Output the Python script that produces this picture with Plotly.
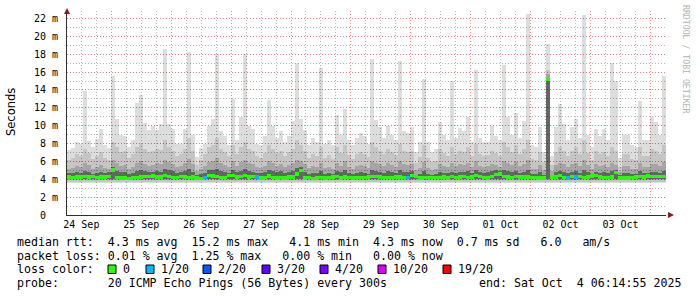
import plotly.graph_objects as go
import pandas as pd

# ---------------- data (96-minute bins) ----------------
rtt_max = [
    7.3, 7.5, 8.2, 8.0, 13.9, 8.3, 7.6, 8.5, 9.6, 7.8, 7.5, 15.6, 10.8, 9.0, 8.8, 7.6, 8.4, 12.5, 13.4, 10.3, 9.5, 10.0, 9.5, 10.2, 18.6,
    10.2, 9.6, 8.0, 8.0, 9.6, 18.3, 9.0, 6.5, 7.5, 8.0, 10.0, 10.7, 18.0, 9.4, 8.8, 7.8, 13.0, 8.4, 11.0, 18.0, 10.0, 9.6, 8.0, 7.8, 8.8,
    12.9, 10.0, 8.6, 9.4, 8.2, 8.8, 10.5, 17.0, 10.8, 9.5, 7.8, 8.6, 8.2, 16.5, 8.0, 8.4, 7.8, 11.2, 9.0, 11.9, 8.4, 7.8, 8.6, 9.2, 8.8,
    8.0, 17.5, 10.6, 9.8, 8.6, 10.0, 9.0, 8.4, 17.2, 9.4, 9.2, 9.8, 7.0, 8.2, 15.2, 8.2, 7.0, 7.4, 10.4, 9.0, 8.4, 15.0, 8.6, 9.7, 9.4,
    11.0, 8.2, 16.2, 8.6, 8.2, 8.2, 10.0, 8.8, 8.4, 16.8, 11.0, 9.0, 11.4, 8.6, 10.5, 22.5, 7.8, 7.6, 9.8, 7.0, 19.2, 6.6, 9.8, 12.4, 10.2,
    8.4, 9.8, 10.8, 8.6, 22.4, 9.0, 7.6, 9.6, 8.8, 9.6, 8.4, 17.0, 15.0, 6.4, 9.0, 9.0, 7.8, 7.6, 12.8, 8.4, 8.4, 11.0, 10.4, 9.0, 15.6,
]
rtt_p90 = [
    6.2, 6.4, 6.8, 6.6, 7.4, 6.9, 6.3, 6.6, 7.0, 6.4, 6.2, 8.2, 7.6, 7.0, 7.2, 6.4, 6.8, 7.6, 8.0, 7.4, 7.0, 7.2, 7.4, 7.3, 8.4,
    7.6, 7.2, 6.6, 6.8, 7.4, 8.6, 7.2, 5.6, 6.2, 6.8, 7.6, 7.8, 8.6, 7.4, 7.0, 6.6, 7.8, 6.8, 7.6, 8.2, 7.4, 7.2, 6.6, 6.4, 6.9,
    7.8, 7.4, 6.9, 7.2, 6.6, 7.0, 7.4, 8.4, 7.8, 7.2, 6.4, 6.8, 6.6, 7.6, 6.4, 6.7, 6.3, 7.6, 6.9, 7.8, 6.7, 6.3, 6.8, 7.1, 6.8,
    6.5, 8.2, 7.6, 7.2, 6.8, 7.4, 7.0, 6.7, 8.0, 7.2, 7.0, 7.2, 5.8, 6.5, 7.8, 6.4, 5.9, 6.1, 7.4, 6.9, 6.6, 7.6, 6.8, 7.2, 7.0,
    7.6, 6.6, 8.0, 6.8, 6.6, 6.7, 7.2, 6.9, 6.6, 8.2, 7.6, 7.0, 7.8, 6.8, 7.4, 8.4, 6.3, 6.2, 7.0, 5.9, 16.2, 5.6, 7.0, 7.6, 7.2,
    6.6, 7.2, 7.6, 6.8, 8.4, 6.9, 6.2, 7.2, 6.8, 7.0, 6.6, 7.6, 7.2, 5.4, 6.8, 6.8, 6.3, 6.2, 7.6, 6.6, 6.6, 7.4, 7.2, 6.8, 7.8,
]
rtt_p75 = [
    5.2, 5.3, 5.5, 5.4, 5.8, 5.6, 5.2, 5.4, 5.6, 5.3, 5.2, 6.2, 5.8, 5.5, 5.6, 5.2, 5.4, 5.8, 6.0, 5.7, 5.5, 5.6, 5.8, 5.7, 6.2,
    5.9, 5.7, 5.4, 5.5, 5.8, 6.3, 5.7, 4.9, 5.2, 5.5, 5.9, 6.0, 6.4, 5.8, 5.6, 5.4, 6.0, 5.5, 5.9, 6.2, 5.8, 5.7, 5.4, 5.3, 5.5,
    6.0, 5.8, 5.5, 5.7, 5.4, 5.6, 5.8, 6.2, 6.0, 5.7, 5.3, 5.5, 5.4, 5.8, 5.3, 5.4, 5.2, 5.8, 5.5, 6.0, 5.4, 5.2, 5.5, 5.6, 5.5,
    5.3, 6.1, 5.8, 5.7, 5.5, 5.8, 5.6, 5.4, 6.0, 5.7, 5.6, 5.7, 5.0, 5.3, 5.9, 5.3, 5.0, 5.1, 5.7, 5.5, 5.4, 5.8, 5.5, 5.7, 5.6,
    5.8, 5.4, 6.0, 5.5, 5.4, 5.5, 5.7, 5.6, 5.4, 6.1, 5.8, 5.6, 5.9, 5.5, 5.7, 6.2, 5.2, 5.1, 5.6, 5.0, 15.8, 4.9, 5.6, 5.8, 5.7,
    5.4, 5.7, 5.8, 5.5, 6.2, 5.6, 5.2, 5.7, 5.5, 5.6, 5.4, 5.8, 5.6, 4.8, 5.5, 5.5, 5.2, 5.2, 5.8, 5.4, 5.4, 5.7, 5.7, 5.5, 5.9,
]
rtt_p60 = [
    4.7, 4.7, 4.8, 4.7, 4.9, 4.8, 4.6, 4.7, 4.8, 4.7, 4.8, 5.4, 4.9, 4.8, 4.8, 4.6, 4.7, 4.9, 5.0, 4.9, 4.8, 4.8, 4.9, 4.8, 5.1,
    5.0, 4.9, 4.7, 4.8, 4.9, 5.2, 4.8, 4.5, 4.6, 4.7, 5.0, 5.0, 5.2, 4.9, 4.8, 4.7, 5.0, 4.8, 4.9, 5.1, 4.9, 4.8, 4.7, 4.7, 4.8,
    5.0, 4.9, 4.8, 4.9, 4.7, 4.8, 4.9, 5.3, 5.4, 4.8, 4.6, 4.7, 4.7, 4.9, 4.6, 4.7, 4.6, 4.9, 4.8, 5.0, 4.7, 4.6, 4.7, 4.8, 4.7,
    4.6, 5.0, 4.9, 4.8, 4.7, 4.9, 4.8, 4.7, 5.0, 4.8, 4.8, 4.9, 4.5, 4.6, 4.9, 4.6, 4.5, 4.6, 4.8, 4.7, 4.7, 4.8, 4.7, 4.8, 4.8,
    4.9, 4.7, 5.0, 4.8, 4.7, 4.8, 4.9, 5.0, 4.9, 5.0, 4.9, 4.8, 4.9, 4.7, 4.8, 5.0, 4.6, 4.6, 4.8, 4.5, 15.3, 4.4, 4.8, 4.9, 4.8,
    4.7, 4.8, 4.9, 4.7, 5.0, 4.8, 4.6, 4.8, 4.7, 4.8, 4.7, 4.9, 5.0, 4.5, 4.7, 4.7, 4.6, 4.6, 4.9, 4.7, 4.7, 4.8, 4.8, 4.7, 4.9,
]
rtt_median = [
    4.25, 4.2, 4.25, 4.25, 4.3, 4.25, 4.3, 4.2, 4.25, 4.25, 4.3, 5.05, 4.2, 4.15, 4.15, 4.1, 4.2, 4.2, 4.25, 4.3, 4.3, 4.35, 4.25, 4.25, 4.4,
    4.3, 4.2, 4.2, 4.3, 4.25, 4.2, 4.25, 4.15, 4.1, 4.2, 4.45, 4.35, 4.3, 4.2, 4.2, 4.4, 4.45, 4.25, 4.3, 4.45, 4.25, 4.3, 4.25, 4.15, 4.2,
    4.35, 4.2, 4.15, 4.2, 4.15, 4.25, 4.25, 4.6, 5.0, 4.15, 4.2, 4.1, 4.15, 4.2, 4.15, 4.2, 4.25, 4.3, 4.15, 4.25, 4.2, 4.15, 4.2, 4.2, 4.2,
    4.25, 4.3, 4.3, 4.25, 4.2, 4.2, 4.2, 4.25, 4.25, 4.2, 4.2, 4.45, 4.3, 4.15, 4.2, 4.2, 4.2, 4.2, 4.2, 4.25, 4.15, 4.3, 4.2, 4.25, 4.3,
    4.2, 4.25, 4.45, 4.3, 4.2, 4.15, 4.3, 4.55, 4.6, 4.3, 4.25, 4.2, 4.3, 4.25, 4.25, 4.25, 4.2, 4.2, 4.15, 4.15, 15.2, 4.2, 4.25, 4.45, 4.2,
    4.15, 4.3, 4.25, 4.3, 4.2, 4.25, 4.35, 4.4, 4.25, 4.2, 4.2, 4.25, 4.75, 4.15, 4.15, 4.15, 4.2, 4.25, 4.3, 4.25, 4.35, 4.3, 4.3, 4.3, 4.3,
]
# bins where packets were lost: (bin index, lost pings out of 20)
loss_events = [(34, 1), (47, 1), (85, 1), (125, 1), (127, 1)]
# lower edges of the smoke bands (ms)
floor_max, floor_p90, floor_p75, floor_p60 = 3.55, 3.75, 3.9, 4.02

loss_levels = ["0", "1/20", "2/20", "3/20", "4/20", "10/20", "19/20"]
loss_colors = ["#26ff00", "#00b8ff", "#0059ff", "#5e00ff", "#7e00ff", "#dd00ff", "#ff0000"]
loss_color_of = {0: "#26ff00", 1: "#00b8ff", 2: "#0059ff", 3: "#5e00ff", 4: "#7e00ff", 10: "#dd00ff", 19: "#ff0000"}

ytick_vals = list(range(0, 23, 2))
ytick_text = ["0\u00a0\u00a0"] + [f"{v}\u00a0m" for v in ytick_vals[1:]]

legend_lines = [
    "median rtt:  4.3 ms avg  15.2 ms max   4.1 ms min  4.3 ms now  0.7 ms sd   6.0   am/s",
    "packet loss: 0.01 % avg  1.25 % max   0.00 % min   0.00 % now",
]
probe_text = "probe:       20 ICMP Echo Pings (56 Bytes) every 300s"
end_text = "end: Sat Oct  4 06:14:55 2025"

start = pd.Timestamp("2025-09-24 06:14:55")
end = pd.Timestamp("2025-10-04 06:14:55")

# ---------------- geometry helpers ----------------
W, H = 697, 297
L, R, T, B = 67, 666, 11, 215
Y_TOP = (B - T) / 8.93


def px(x):
    return (x - L) / (R - L)


def py(y):
    return (B - y) / (B - T)


n = len(rtt_max)
step = (end - start) / n
step_ms = step.total_seconds() * 1000
centers = [start + step * (i + 0.5) for i in range(n)]

fig = go.Figure()

# translucent smoke so the grid shows through (as in rrdtool); stacked alphas give
# approx. #dddddd, #c6c6c6, #a6a6a6, #666666
bands = [
    (rtt_max, floor_max, "rgba(0,0,0,0.133)"),
    (rtt_p90, floor_p90, "rgba(0,0,0,0.105)"),
    (rtt_p75, floor_p75, "rgba(0,0,0,0.16)"),
    (rtt_p60, floor_p60, "rgba(0,0,0,0.39)"),
]
for tops, floor, col in bands:
    fig.add_trace(go.Bar(
        x=centers, base=[floor] * n, y=[t - floor for t in tops], width=step_ms,
        marker=dict(color=col, line=dict(width=0)), hoverinfo="skip", showlegend=False,
    ))

# median: short segments coloured by packet loss
loss_per_bin = {i: l for i, l in loss_events}
med_colors = [loss_color_of[loss_per_bin.get(i, 0)] for i in range(n)]
fig.add_trace(go.Bar(
    x=centers, base=[m - 0.19 for m in rtt_median], y=[0.38] * n, width=step_ms,
    marker=dict(color=med_colors, line=dict(width=0)), hoverinfo="skip", showlegend=False,
))

mono = "DejaVu Sans Mono"
major_grid = "rgba(225,110,110,0.8)"
minor_grid = "rgba(165,165,165,0.8)"

fig.update_layout(
    width=W, height=H, margin=dict(l=L, r=W - R, t=T, b=H - B),
    paper_bgcolor="white", plot_bgcolor="white", barmode="overlay", bargap=0,
    xaxis=dict(
        type="date", range=[start, end], dtick=86400000, tick0="2025-09-25",
        tickformat="%d %b", ticklabelmode="period", ticks="",
        showgrid=True, gridcolor=major_grid, griddash="1px,2px", gridwidth=1,
        minor=dict(dtick=6 * 3600 * 1000, showgrid=True, gridcolor=minor_grid, griddash="1px,2px"),
        showline=True, linecolor="#303030", linewidth=1, zeroline=False,
        tickfont=dict(family=mono, size=10, color="#000"),
    ),
    yaxis=dict(
        range=[0, Y_TOP], tickvals=ytick_vals, ticktext=ytick_text, ticks="",
        showgrid=True, gridcolor=major_grid, griddash="1px,2px",
        minor=dict(dtick=1, showgrid=True, gridcolor=minor_grid, griddash="1px,2px"),
        showline=True, linecolor="#303030", linewidth=1, zeroline=False,
        tickfont=dict(family=mono, size=10, color="#000"), ticklabelstandoff=6,
    ),
)

shapes = []
ann = []
row_y = [241.7, 255.7, 269.3, 282.7]
for i, txt in enumerate(legend_lines):
    ann.append(dict(x=px(16), y=py(row_y[i]), text=txt.replace(" ", "\u00a0")))
ann.append(dict(x=px(16), y=py(row_y[2]), text="loss\u00a0color:"))
sq_x = [108, 146, 203, 262, 320, 378, 443]
for xx, lab, col in zip(sq_x, loss_levels, loss_colors):
    shapes.append(dict(type="rect", xref="paper", yref="paper", x0=px(xx), x1=px(xx + 8),
                       y0=py(273.5), y1=py(265), fillcolor=col, line=dict(color="black", width=1)))
    ann.append(dict(x=px(xx + 14), y=py(row_y[2]), text=lab))
ann.append(dict(x=px(16), y=py(row_y[3]), text=probe_text.replace(" ", "\u00a0")))
ann.append(dict(x=px(478), y=py(row_y[3]), text=end_text.replace(" ", "\u00a0")))

for a in ann:
    a.update(xref="paper", yref="paper", xanchor="left", yanchor="middle", showarrow=False,
             borderpad=0, font=dict(family=mono, size=11.6, color="black"))

ann.append(dict(x=px(11), y=py(112), xref="paper", yref="paper", text="Seconds", textangle=-90,
                showarrow=False, xanchor="center", yanchor="middle",
                font=dict(family="DejaVu Sans", size=11.5, color="black")))
ann.append(dict(x=px(686), y=py(59), xref="paper", yref="paper", text="RRDTOOL\u00a0/\u00a0TOBI\u00a0OETIKER",
                textangle=90, showarrow=False, xanchor="center", yanchor="middle",
                font=dict(family=mono, size=8.2, color="#b4b4b4")))

arrow_col = "#8b1a1a"
shapes.append(dict(type="path", xref="paper", yref="paper",
                   path=f"M {px(64)},{py(14)} L {px(70)},{py(14)} L {px(67)},{py(8)} Z",
                   fillcolor=arrow_col, line=dict(width=0)))
shapes.append(dict(type="path", xref="paper", yref="paper",
                   path=f"M {px(668)},{py(212)} L {px(668)},{py(218)} L {px(674)},{py(215)} Z",
                   fillcolor=arrow_col, line=dict(width=0)))

fig.update_layout(annotations=ann, shapes=shapes)
fig.write_html("out.html")
